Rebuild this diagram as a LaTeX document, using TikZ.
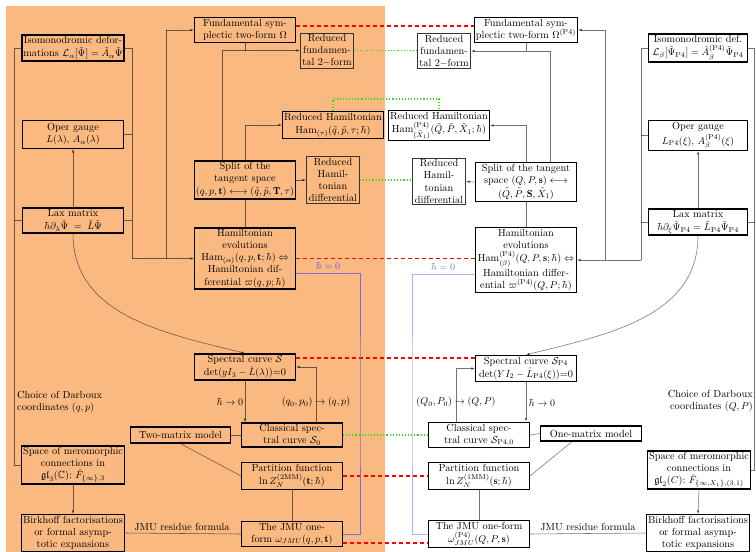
\documentclass[tikz,border=0pt]{standalone}
\usepackage{amsmath,amssymb}
\usepackage{fontspec}
\usetikzlibrary{arrows.meta}
\definecolor{orangebg}{RGB}{249,185,129}
\definecolor{grn}{RGB}{40,225,20}
\definecolor{blueL}{RGB}{125,105,230}
\definecolor{blueR}{RGB}{175,175,250}
\definecolor{blueLt}{RGB}{95,80,235}
\definecolor{blueRt}{RGB}{115,115,250}
\tikzset{
 tb/.style={draw=black, line width=1.3pt, align=center, inner xsep=1.5pt, inner ysep=1.6pt, minimum width=100.7pt},
 tn/.style={draw=black!80, line width=0.7pt, align=center, inner sep=1.5pt, minimum width=53.3pt},
 conn/.style={draw=black, opacity=0.55, line width=0.55pt},
 arr/.style={conn, -{Latex[length=3.6pt,width=2.6pt]}},
 rdash/.style={draw=red, line width=1.2pt, dash pattern=on 4pt off 3pt},
 gdot/.style={draw=grn, line width=1.1pt, dotted},
 lbl/.style={inner sep=1pt},
}
\begin{document}
\begin{tikzpicture}[x=1pt,y=-1pt,font=\fontsize{10.3}{12.1}\selectfont]
\useasboundingbox (0,0) rectangle (756,552);
\fill[white] (0,0) rectangle (756,552);
\fill[orangebg] (6,6) rectangle (385,552);

% ---------- left column
\node[tb, minimum height=26pt] (iso) at (73,48) {Isomonodromic defor-\\[1pt]mations $\mathcal{L}_\alpha[\tilde\Psi]=\tilde A_\alpha\tilde\Psi$};
\node[tb, minimum height=27.5pt] (oper) at (73,134.5) {Oper gauge\\$L(\lambda),\,A_\alpha(\lambda)$};
\node[tb, minimum height=24pt] (lax) at (73,220.5) {Lax matrix\\[1pt]$\hbar\partial_\lambda\tilde\Psi\;=\;\tilde L\tilde\Psi$};
\node[tb] (space) at (73,465) {Space of meromorphic\\connections in\\$\mathfrak{gl}_3(\mathbb{C})$:\ $\hat F_{\{\infty\},3}$};
\node[tb] (birk) at (73,533) {Birkhoff factorisations\\or formal asymp-\\totic expansions};

% ---------- centre left
\node[tb] (fund) at (245,30) {Fundamental sym-\\plectic two-form $\Omega$};
\node[tn] (redfund) at (327,50.5) {Reduced\\fundamen-\\tal 2$-$form};
\node[tb] (redham) at (333,125) {Reduced Hamiltonian\\[1pt]$\mathrm{Ham}_{(\tau)}(\tilde q,\tilde p,\tau;\hbar)$};
\node[tb] (split) at (245,180) {Split of the\\tangent space\\[1pt]$(q,p,\mathbf{t})\longleftrightarrow(\tilde q,\tilde p,\mathbf{T},\tau)$};
\node[tn] (reddiff) at (333,180) {Reduced\\Hamil-\\tonian\\differential};
\node[tb] (ham) at (245,258.5) {Hamiltonian\\evolutions\\$\mathrm{Ham}_{(\alpha)}(q,p,\mathbf{t};\hbar)\Leftrightarrow$\\Hamiltonian dif-\\ferential $\varpi(q,p;\hbar)$};
\node[tb] (spec) at (245,367) {Spectral curve $\mathcal{S}$\\[1pt]$\det(yI_3-\hat L(\lambda))$=0};
\node[tb, minimum height=16pt, minimum width=99.7pt] (twomat) at (180.5,435) {Two-matrix model};
\node[tb] (class) at (292,435) {Classical spec-\\tral curve $\mathcal{S}_0$};
\node[tb] (part) at (292,476) {Partition function\\[1pt]$\ln Z_N^{(\mathrm{2MM})}(\mathbf{t};\hbar)$};
\node[tb] (jmu) at (292,534) {The JMU one-\\form $\omega_{JMU}(q,p,\mathbf{t})$};

% ---------- centre right
\node[tb] (fund2) at (526,30) {Fundamental sym-\\plectic two-form $\Omega^{(\mathrm{P4})}$};
\node[tn] (redfund2) at (444,51) {Reduced\\fundamen-\\tal 2$-$form};
\node[tb] (redham2) at (439,125.5) {Reduced Hamiltonian\\[1.5pt]$\mathrm{Ham}^{(\mathrm{P4})}_{(\tilde X_1)}(\tilde Q,\tilde P,\tilde X_1;\hbar)$};
\node[tb] (split2) at (526,182) {Split of the tangent\\space $(Q,P,\mathbf{s})\longleftrightarrow$\\[1.5pt]$(\tilde Q,\tilde P,\mathbf{S},\tilde X_1)$};
\node[tn] (reddiff2) at (439,181.5) {Reduced\\Hamil-\\tonian\\differential};
\node[tb] (ham2) at (526,260) {Hamiltonian\\evolutions\\[1pt]$\mathrm{Ham}^{(\mathrm{P4})}_{(\beta)}(Q,P,\mathbf{s};\hbar)\Leftrightarrow$\\[1pt]Hamiltonian differ-\\ential $\varpi^{(\mathrm{P4})}(Q,P;\hbar)$};
\node[tb] (spec2) at (526,368.5) {Spectral curve $\mathcal{S}_{\mathrm{P4}}$\\[1pt]$\det(YI_2-\hat L_{\mathrm{P4}}(\xi))$=0};
\node[tb] (class2) at (479,435) {Classical spec-\\tral curve $\mathcal{S}_{\mathrm{P4},0}$};
\node[tb, minimum height=15pt] (onemat) at (591,433.5) {One-matrix model};
\node[tb] (part2) at (479,476) {Partition function\\[1pt]$\ln Z_N^{(\mathrm{1MM})}(\mathbf{s};\hbar)$};
\node[tb] (jmu2) at (479,534) {The JMU one-form\\[1pt]$\omega^{(\mathrm{P4})}_{JMU}(Q,P,\mathbf{s})$};

% ---------- right column
\node[tb, minimum width=98.7pt] (iso2) at (698,48) {Isomonodromic def.\\[1pt]$\mathcal{L}_\beta[\tilde\Psi_{\mathrm{P4}}]=\tilde A^{(\mathrm{P4})}_\beta\tilde\Psi_{\mathrm{P4}}$};
\node[tb, minimum width=98.7pt, minimum height=26.5pt] (oper2) at (698,135.5) {Oper gauge\\[1pt]$L_{\mathrm{P4}}(\xi),\,A^{(\mathrm{P4})}_\beta(\xi)$};
\node[tb, minimum width=98.7pt] (lax2) at (698,222) {Lax matrix\\[1pt]$\hbar\partial_\xi\tilde\Psi_{\mathrm{P4}}=\tilde L_{\mathrm{P4}}\tilde\Psi_{\mathrm{P4}}$};
\node[tb, minimum width=96.7pt] (space2) at (699,470) {Space of meromorphic\\connections in\\$\mathfrak{gl}_2(C)$:\ $\hat F_{\{\infty,X_1\},(3,1)}$};
\node[tb, minimum width=98.7pt] (birk2) at (698,533) {Birkhoff factorisations\\or formal asymp-\\totic expansions};

% ---------- labels
\node[lbl] (hL) at (230,402) {$\hbar\to0$};
\node[lbl] (qL) at (316,402) {$(q_0,p_0)\to(q,p)$};
\node[lbl] (hR) at (542,403) {$\hbar\to0$};
\node[lbl] (qR) at (456,402) {$(Q_0,P_0)\to(Q,P)$};
\node[lbl, text=blueLt] (h0L) at (328,266) {$\hbar=0$};
\node[lbl, text=blueRt] (h0R) at (443,267) {$\hbar=0$};
\node[lbl, anchor=west, align=left] (darbL) at (16,402) {Choice of Darboux\\coordinates $(q,p)$};
\node[lbl, anchor=east, align=right] (darbR) at (754,401) {Choice of Darboux\\coordinates $(Q,P)$};
\node[lbl] (resL) at (182,527) {JMU residue formula};
\node[lbl] (resR) at (588,527) {JMU residue formula};

% ---------- junction coordinates
\coordinate (LL) at (14,0);
\coordinate (LR) at (132,48);
\coordinate (LM) at (166,30);
\coordinate (LF) at (222,50.5);
\coordinate (RL) at (754.5,0);
\coordinate (RR) at (641,48);
\coordinate (RM) at (605,30);
\coordinate (RF) at (550,51);
\coordinate (Lq) at (316,0);
\coordinate (Rq) at (456,0);
\coordinate (bL) at (360,400);
\coordinate (bR) at (412,400);
\coordinate (gtop) at (333,99);

% ---------- left trees
\draw[conn] (iso.west) -- (iso.west -| LL) -- (space.west -| LL) -- (space.west);
\draw[conn] (lax.west) -- (lax.west -| LL);
\draw[conn] (iso.east) -- (LR) -- (LR |- ham.west);
\draw[conn] (oper.east) -- (oper.east -| LR);
\draw[conn] (lax.east) -- (lax.east -| LR);
\draw[arr] (LR |- ham.west) -- (ham.west);
\draw[conn] (LM |- ham.west) -- (LM);
\draw[arr] (LM) -- (fund.west);
\draw[arr] (lax.north) -- (oper.south);
\draw[arr] (lax.south) to[out=-90,in=166] (spec.north);
\draw[arr] (space.south) -- (birk.north);

\draw[conn] (fund.south) -- (fund.south |- redfund.west);
\draw[arr] (LF) -- (redfund.west);
\draw[conn] (LF) -- (LF |- split.north);
\draw[arr] (split.north) |- (redham.west);
\draw[arr] (split.east) -- (reddiff.west);
\draw[conn] (split.south) -- (ham.north);

% ---------- right trees
\draw[conn] (iso2.east) -- (iso2.east -| RL) -- (space2.east -| RL) -- (space2.east);
\draw[conn] (lax2.east) -- (lax2.east -| RL);
\draw[conn] (iso2.west) -- (RR) -- (RR |- ham2.east);
\draw[conn] (oper2.west) -- (oper2.west -| RR);
\draw[conn] (lax2.west) -- (lax2.west -| RR);
\draw[arr] (RR |- ham2.east) -- (ham2.east);
\draw[conn] (RM |- ham2.east) -- (RM);
\draw[arr] (RM) -- (fund2.east);
\draw[arr] (lax2.north) -- (oper2.south);
\draw[arr] (lax2.south) to[out=-90,in=14] (spec2.north);
\draw[arr] (space2.south) -- (birk2.north);

\draw[conn] (fund2.south) -- (fund2.south |- redfund2.east);
\draw[arr] (RF) -- (redfund2.east);
\draw[conn] (RF) -- (RF |- split2.north);
\draw[arr] (split2.north) |- (redham2.east);
\draw[arr] (split2.west) -- (reddiff2.east);
\draw[conn] (split2.south) -- (ham2.north);

% ---------- spectral part
\draw[arr] (spec.south) -- (spec.south |- class.north);
\draw[arr] (class.north -| Lq) |- (spec.east);
\draw[arr] (spec2.south) -- (spec2.south |- class2.north);
\draw[arr] (class2.north -| Rq) |- (spec2.west);

\draw[conn] (twomat.east) -- (class.west);
\draw[conn] (twomat.south) -- (part.west);
\draw[conn] (part.south) -- (jmu.north);
\draw[conn] (birk.east) -- (jmu.west);

\draw[conn] (class2.east) -- (onemat.west);
\draw[conn] ([xshift=-19pt]onemat.south) -- (part2.east);
\draw[conn] (part2.south) -- (jmu2.north);
\draw[conn] (jmu2.east) -- (birk2.west);

% ---------- correspondences
\draw[rdash] ([yshift=4pt]fund.east) -- ([yshift=4pt]fund.east -| fund2.west);
\draw[rdash] (ham.east) -- (ham.east -| ham2.west);
\draw[rdash] ([yshift=9pt]spec.east) -- ([yshift=9pt]spec.east -| spec2.west);
\draw[rdash] (part.east) -- (part.east -| part2.west);
\draw[rdash, line width=1.7pt] ([yshift=-9pt]jmu.east) -- ([yshift=-9pt]jmu.east -| jmu2.west);

\draw[gdot] (redfund.east) -- (redfund.east -| redfund2.west);
\draw[gdot] (reddiff.east) -- (reddiff.east -| reddiff2.west);
\draw[gdot] (class.east) -- (class.east -| class2.west);
\draw[gdot] (redham.north) -- (gtop) -| (redham2.north);

\draw[draw=blueL, line width=0.6pt] ([yshift=-14.5pt]ham.east) -| (bL) |- (jmu.east);
\draw[draw=blueR, line width=1pt] ([yshift=-14pt]ham2.west) -| (bR) |- (jmu2.west);
\end{tikzpicture}
\end{document}
